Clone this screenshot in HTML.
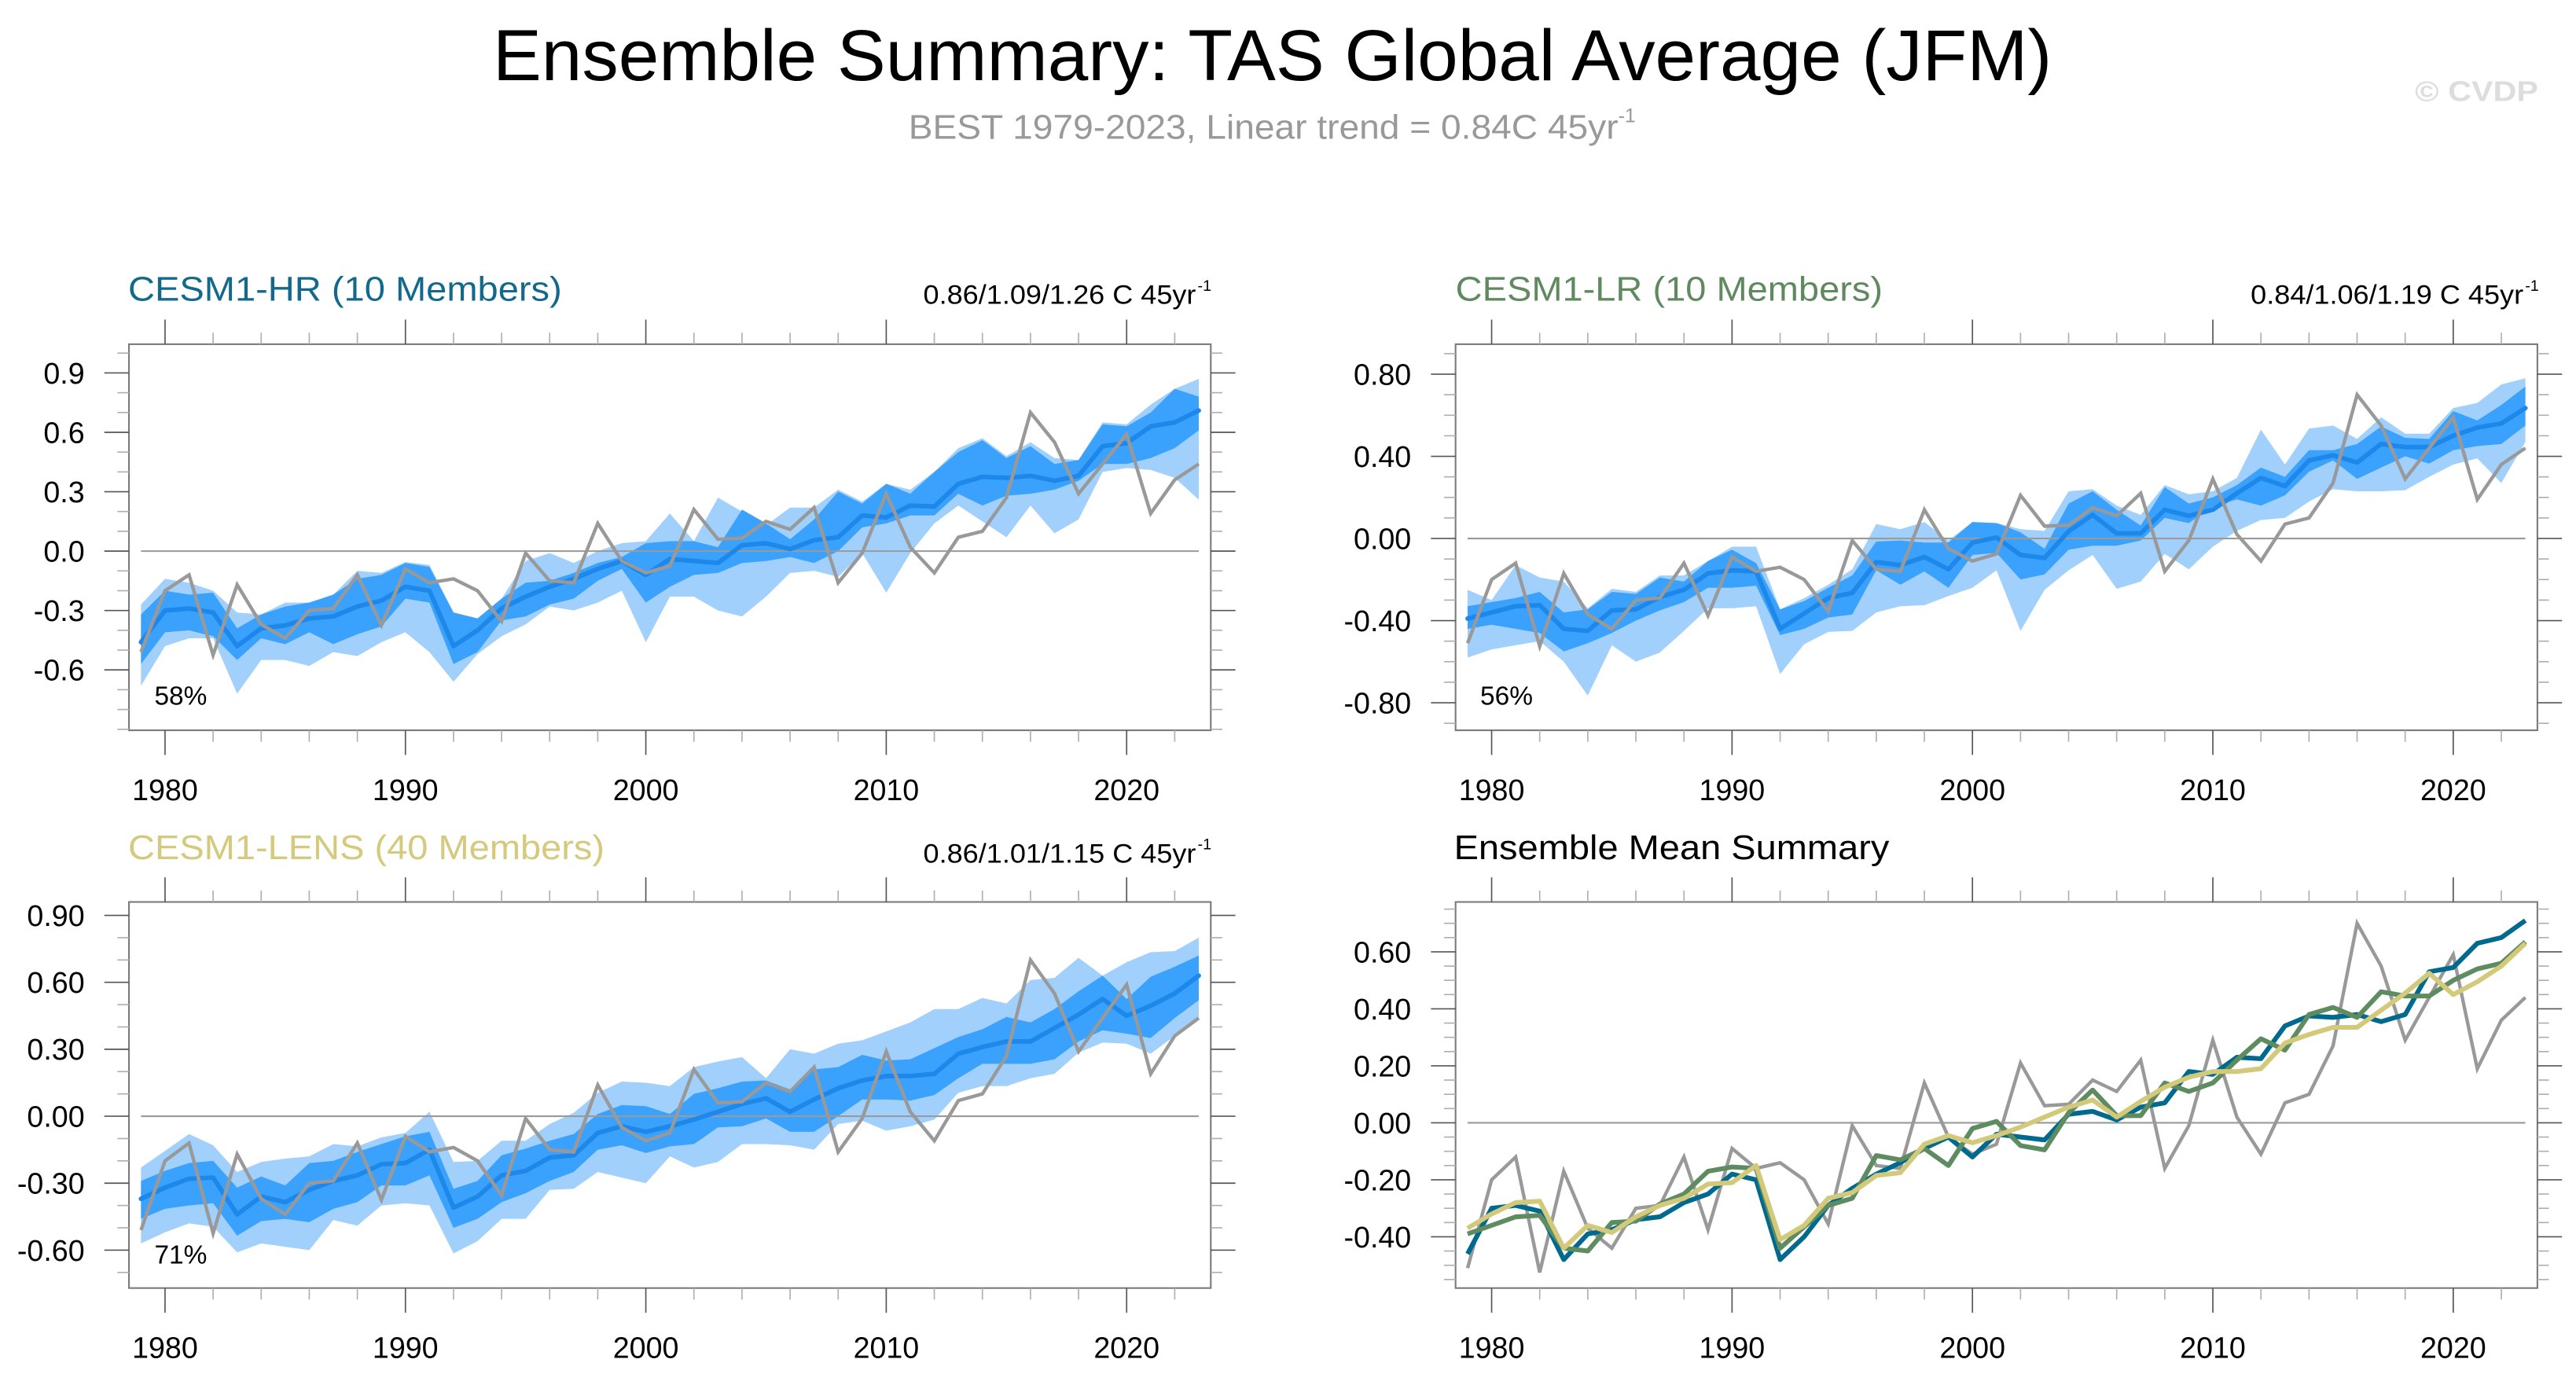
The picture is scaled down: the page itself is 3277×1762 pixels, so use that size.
<!DOCTYPE html>
<html><head><meta charset="utf-8"><title>Ensemble Summary: TAS Global Average (JFM)</title>
<style>
html,body{margin:0;padding:0;background:#fff;}
svg{display:block;font-family:"Liberation Sans",Arial,sans-serif;}
</style></head>
<body>
<svg id="chart" xmlns="http://www.w3.org/2000/svg" width="3277" height="1762" viewBox="0 0 1568 843" preserveAspectRatio="none">
<rect x="0" y="0" width="1568" height="843" fill="#fff"/>
<text x="300" y="48.7" font-size="44" textLength="949" lengthAdjust="spacingAndGlyphs" fill="#000">Ensemble Summary: TAS Global Average (JFM)</text>
<text x="553" y="84.5" font-size="21" fill="#999"><tspan textLength="432" lengthAdjust="spacingAndGlyphs">BEST 1979-2023, Linear trend = 0.84C 45yr</tspan><tspan font-size="12" dy="-10">-1</tspan></text>
<text x="1470" y="61.4" font-size="17.5" font-weight="bold" fill="#ddd" textLength="75" lengthAdjust="spacingAndGlyphs">© CVDP</text>

<text x="78" y="183" font-size="21" fill="#12698c" textLength="264" lengthAdjust="spacingAndGlyphs">CESM1-HR (10 Members)</text>
<text x="886" y="183" font-size="21" fill="#5f8a60" textLength="260" lengthAdjust="spacingAndGlyphs">CESM1-LR (10 Members)</text>
<text x="78" y="523" font-size="21" fill="#d4c97c" textLength="290" lengthAdjust="spacingAndGlyphs">CESM1-LENS (40 Members)</text>
<text x="885" y="523" font-size="21" fill="#000" textLength="265" lengthAdjust="spacingAndGlyphs">Ensemble Mean Summary</text>

<text x="562" y="185" font-size="16.5" textLength="166" lengthAdjust="spacingAndGlyphs" fill="#000">0.86/1.09/1.26 C 45yr</text>
<text x="729" y="177" font-size="9.5" fill="#000">-1</text>
<text x="1370" y="185" font-size="16.5" textLength="166" lengthAdjust="spacingAndGlyphs" fill="#000">0.84/1.06/1.19 C 45yr</text>
<text x="1537" y="177" font-size="9.5" fill="#000">-1</text>
<text x="562" y="525" font-size="16.5" textLength="166" lengthAdjust="spacingAndGlyphs" fill="#000">0.86/1.01/1.15 C 45yr</text>
<text x="729" y="517" font-size="9.5" fill="#000">-1</text>

<text x="94" y="429" font-size="16" fill="#000">58%</text>
<text x="901" y="429" font-size="16" fill="#000">56%</text>
<text x="94" y="769" font-size="16" fill="#000">71%</text>
<g id="plots"></g>
</svg>
<script>
const years = [1979,1980,1981,1982,1983,1984,1985,1986,1987,1988,1989,1990,1991,1992,1993,1994,1995,1996,1997,1998,1999,2000,2001,2002,2003,2004,2005,2006,2007,2008,2009,2010,2011,2012,2013,2014,2015,2016,2017,2018,2019,2020,2021,2022,2023];
const obs = [-0.51,-0.20,-0.12,-0.525,-0.17,-0.37,-0.44,-0.30,-0.29,-0.12,-0.375,-0.09,-0.16,-0.14,-0.20,-0.355,-0.01,-0.15,-0.16,0.14,-0.05,-0.11,-0.075,0.21,0.06,0.065,0.15,0.11,0.22,-0.16,-0.01,0.29,0.02,-0.11,0.07,0.10,0.27,0.70,0.55,0.29,0.44,0.59,0.19,0.36,0.44];

const hrMean = [-0.46,-0.30,-0.29,-0.31,-0.48,-0.39,-0.375,-0.34,-0.33,-0.28,-0.25,-0.18,-0.20,-0.48,-0.40,-0.29,-0.23,-0.18,-0.14,-0.09,-0.05,-0.12,-0.04,-0.05,-0.06,0.03,0.04,0.01,0.055,0.07,0.18,0.17,0.23,0.225,0.34,0.375,0.37,0.38,0.355,0.38,0.53,0.545,0.63,0.65,0.71];
const hrDarkHi = [-0.32,-0.20,-0.22,-0.21,-0.39,-0.32,-0.28,-0.26,-0.22,-0.14,-0.12,-0.06,-0.08,-0.31,-0.34,-0.24,-0.16,-0.15,-0.11,-0.06,-0.03,0.04,0.05,0.05,0.02,0.21,0.14,0.06,0.16,0.30,0.24,0.34,0.29,0.40,0.50,0.56,0.47,0.53,0.44,0.46,0.64,0.63,0.70,0.82,0.78];
const hrDarkLo = [-0.57,-0.41,-0.40,-0.43,-0.55,-0.44,-0.47,-0.41,-0.47,-0.42,-0.38,-0.24,-0.26,-0.57,-0.51,-0.35,-0.33,-0.27,-0.24,-0.15,-0.09,-0.26,-0.18,-0.12,-0.11,-0.06,-0.05,-0.03,-0.06,0.00,0.12,0.14,0.18,0.18,0.29,0.23,0.28,0.29,0.31,0.355,0.44,0.44,0.47,0.52,0.61];
const hrLightHi = [-0.27,-0.14,-0.16,-0.20,-0.31,-0.32,-0.26,-0.26,-0.22,-0.10,-0.11,-0.055,-0.07,-0.31,-0.34,-0.24,-0.05,-0.01,-0.06,0.00,0.04,0.05,0.19,0.05,0.27,0.20,0.13,0.22,0.22,0.31,0.25,0.34,0.31,0.40,0.52,0.57,0.48,0.55,0.47,0.46,0.65,0.64,0.74,0.82,0.87];
const hrLightLo = [-0.68,-0.48,-0.44,-0.44,-0.72,-0.55,-0.55,-0.58,-0.51,-0.53,-0.46,-0.41,-0.51,-0.66,-0.52,-0.43,-0.37,-0.28,-0.30,-0.26,-0.20,-0.46,-0.23,-0.23,-0.30,-0.33,-0.23,-0.11,-0.10,-0.13,-0.01,-0.21,-0.01,0.14,0.23,0.15,0.07,0.23,0.09,0.16,0.40,0.42,0.41,0.37,0.26];

const lrMean = [-0.39,-0.36,-0.33,-0.325,-0.44,-0.45,-0.35,-0.345,-0.285,-0.25,-0.17,-0.155,-0.16,-0.44,-0.365,-0.29,-0.265,-0.115,-0.13,-0.09,-0.15,-0.02,0.005,-0.08,-0.095,0.035,0.115,0.025,0.025,0.14,0.11,0.14,0.22,0.295,0.255,0.38,0.405,0.37,0.46,0.445,0.445,0.50,0.54,0.56,0.635];
const lrDarkHi = [-0.33,-0.31,-0.29,-0.26,-0.36,-0.345,-0.26,-0.27,-0.19,-0.21,-0.11,-0.055,-0.12,-0.345,-0.305,-0.24,-0.18,-0.015,-0.01,-0.02,-0.02,0.08,0.075,0.03,-0.05,0.17,0.23,0.14,0.063,0.25,0.17,0.20,0.26,0.345,0.30,0.43,0.43,0.46,0.545,0.49,0.485,0.62,0.575,0.65,0.74];
const lrDarkLo = [-0.44,-0.42,-0.44,-0.46,-0.55,-0.51,-0.46,-0.40,-0.35,-0.31,-0.24,-0.24,-0.23,-0.47,-0.44,-0.385,-0.37,-0.155,-0.225,-0.16,-0.24,-0.08,-0.07,-0.20,-0.175,-0.055,-0.035,-0.035,-0.01,0.10,0.075,0.155,0.19,0.16,0.21,0.325,0.38,0.29,0.345,0.40,0.365,0.43,0.45,0.46,0.55];
const lrLightHi = [-0.25,-0.30,-0.13,-0.19,-0.21,-0.34,-0.245,-0.26,-0.18,-0.18,-0.11,-0.04,-0.04,-0.345,-0.29,-0.225,-0.15,0.07,0.045,0.08,-0.01,0.08,0.075,0.045,0.037,0.23,0.24,0.16,0.115,0.26,0.215,0.23,0.295,0.53,0.36,0.535,0.55,0.485,0.59,0.51,0.51,0.635,0.66,0.75,0.78];
const lrLightLo = [-0.58,-0.54,-0.52,-0.50,-0.60,-0.765,-0.52,-0.60,-0.555,-0.45,-0.34,-0.34,-0.33,-0.66,-0.515,-0.455,-0.45,-0.36,-0.33,-0.325,-0.28,-0.24,-0.155,-0.45,-0.25,-0.155,-0.08,-0.245,-0.21,-0.075,-0.15,-0.04,0.037,0.09,0.10,0.18,0.24,0.23,0.23,0.235,0.30,0.36,0.39,0.27,0.47];

const leMean = [-0.37,-0.32,-0.28,-0.275,-0.44,-0.36,-0.385,-0.33,-0.29,-0.265,-0.215,-0.21,-0.15,-0.41,-0.36,-0.265,-0.245,-0.185,-0.175,-0.075,-0.045,-0.07,-0.045,-0.015,0.02,0.055,0.08,0.02,0.075,0.125,0.16,0.18,0.18,0.19,0.28,0.31,0.335,0.335,0.395,0.455,0.525,0.45,0.495,0.55,0.63];
const leDarkHi = [-0.29,-0.245,-0.21,-0.20,-0.32,-0.27,-0.31,-0.21,-0.20,-0.16,-0.125,-0.09,-0.07,-0.325,-0.29,-0.175,-0.145,-0.11,-0.08,0.01,0.05,0.045,0.01,0.10,0.125,0.155,0.16,0.12,0.21,0.22,0.275,0.25,0.255,0.305,0.355,0.39,0.445,0.42,0.48,0.56,0.63,0.525,0.625,0.67,0.72];
const leDarkLo = [-0.46,-0.415,-0.40,-0.39,-0.535,-0.47,-0.46,-0.475,-0.415,-0.385,-0.31,-0.31,-0.265,-0.50,-0.46,-0.385,-0.345,-0.29,-0.25,-0.15,-0.13,-0.165,-0.135,-0.125,-0.05,-0.045,-0.01,-0.07,-0.07,0.00,0.075,0.075,0.07,0.095,0.17,0.235,0.235,0.235,0.255,0.335,0.385,0.37,0.35,0.44,0.52];
const leLightHi = [-0.23,-0.155,-0.08,-0.13,-0.25,-0.205,-0.19,-0.18,-0.125,-0.135,-0.095,-0.075,0.02,-0.205,-0.20,-0.11,-0.11,-0.035,0.015,0.105,0.155,0.15,0.135,0.22,0.245,0.265,0.17,0.30,0.28,0.325,0.34,0.38,0.42,0.48,0.48,0.53,0.505,0.61,0.62,0.71,0.63,0.69,0.735,0.74,0.80];
const leLightLo = [-0.57,-0.52,-0.48,-0.495,-0.61,-0.57,-0.585,-0.60,-0.465,-0.49,-0.40,-0.39,-0.40,-0.615,-0.56,-0.46,-0.46,-0.33,-0.325,-0.25,-0.275,-0.30,-0.18,-0.23,-0.205,-0.125,-0.125,-0.13,-0.15,-0.035,-0.02,-0.065,-0.045,-0.015,0.105,0.135,0.135,0.17,0.19,0.285,0.33,0.325,0.28,0.36,0.445];

const xTickLabels = ["1980","1990","2000","2010","2020"];
const xMajorYears = [1980,1990,2000,2010,2020];
const hrYTicks = [0.9,0.6,0.3,0.0,-0.3,-0.6];
const hrYLabels = ["0.9","0.6","0.3","0.0","-0.3","-0.6"];
const lrYTicks = [0.8,0.4,0.0,-0.4,-0.8];
const lrYLabels = ["0.80","0.40","0.00","-0.40","-0.80"];
const leYTicks = [0.9,0.6,0.3,0.0,-0.3,-0.6];
const leYLabels = ["0.90","0.60","0.30","0.00","-0.30","-0.60"];
const smYTicks = [0.6,0.4,0.2,0.0,-0.2,-0.4];
const smYLabels = ["0.60","0.40","0.20","0.00","-0.20","-0.40"];

const NS = "http://www.w3.org/2000/svg";
const root = document.getElementById('plots');
function mk(tag, attrs, parent){
  const el = document.createElementNS(NS, tag);
  for (const k in attrs) el.setAttribute(k, attrs[k]);
  (parent||root).appendChild(el);
  return el;
}
const XMIN = 1978.5, XMAX = 2023.5;
function sx(p, yr){ return p.x0 + (yr - XMIN) / (XMAX - XMIN) * (p.x1 - p.x0); }
function sy(p, v){ return p.y0 + (p.ymax - v) / (p.ymax - p.ymin) * (p.y1 - p.y0); }

function linePts(p, vals){ return vals.map((v,i)=> sx(p,years[i]).toFixed(2)+','+sy(p,v).toFixed(2)).join(' '); }
function bandPts(p, hi, lo){
  const a = hi.map((v,i)=> sx(p,years[i]).toFixed(2)+','+sy(p,v).toFixed(2));
  const b = lo.map((v,i)=> sx(p,years[i]).toFixed(2)+','+sy(p,v).toFixed(2)).reverse();
  return a.concat(b).join(' ');
}

function drawAxes(p, g, name){
  const z = mk('line', {x1:sx(p,1979), x2:sx(p,2023), y1:sy(p,0), y2:sy(p,0), stroke:'#9a9a9a', 'stroke-width':1}, g);
  
  
}

function drawFrame(p, g, name, yTicks, yLabels, minorStep){
  const fr = mk('rect', {x:p.x0, y:p.y0, width:p.x1-p.x0, height:p.y1-p.y0, fill:'none', stroke:'#7a7a7a', 'stroke-width':1}, g);
  
  
  for (let yr = 1980; yr <= 2022; yr += 2){
    const major = xMajorYears.indexOf(yr) >= 0;
    const x = sx(p, yr);
    const len = major ? 15 : 7;
    const col = major ? '#555' : '#b0b0b0';
    const t1 = mk('line', {x1:x, x2:x, y1:p.y1, y2:p.y1+len, stroke:col, 'stroke-width':0.8}, g);
    
    
    const t2 = mk('line', {x1:x, x2:x, y1:p.y0, y2:p.y0-len, stroke:col, 'stroke-width':0.8}, g);
    
    
  }
  xMajorYears.forEach((yr, i)=>{
    const t = mk('text', {x:sx(p,yr), y:p.y1+42.5, 'font-size':18, 'text-anchor':'middle', fill:'#000'}, g);
    
    
    t.textContent = xTickLabels[i];
  });
  const start = Math.ceil((p.ymin + 0.001) / minorStep), end = Math.floor((p.ymax - 0.001) / minorStep);
  for (let k = start; k <= end; k++){
    const v = k * minorStep;
    const isMajor = yTicks.some(t => Math.abs(t - v) < 1e-6);
    if (isMajor) continue;
    const y = sy(p, v);
    const a = mk('line', {x1:p.x0, x2:p.x0-7, y1:y, y2:y, stroke:'#b0b0b0', 'stroke-width':0.8}, g);
    
    
    const b = mk('line', {x1:p.x1, x2:p.x1+7, y1:y, y2:y, stroke:'#b0b0b0', 'stroke-width':0.8}, g);
    
    
  }
  yTicks.forEach((v, i)=>{
    const y = sy(p, v);
    const a = mk('line', {x1:p.x0, x2:p.x0-15, y1:y, y2:y, stroke:'#555', 'stroke-width':0.8}, g);
    
    
    const b = mk('line', {x1:p.x1, x2:p.x1+15, y1:y, y2:y, stroke:'#555', 'stroke-width':0.8}, g);
    
    
    const t = mk('text', {x:p.x0-27, y:y+6.4, 'font-size':18, 'text-anchor':'end', fill:'#000'}, g);
    
    
    t.textContent = yLabels[i];
  });
}

function drawEnsemblePanel(p, name, mean, dHi, dLo, lHi, lLo, yTicks, yLabels){
  const g = mk('g', {});
  
  
  const lb = mk('polygon', {points:bandPts(p, lHi, lLo), fill:'#a0d0fb', stroke:'none'}, g);
  
  
  const db = mk('polygon', {points:bandPts(p, dHi, dLo), fill:'#3aa1fd', stroke:'none'}, g);
  
  
  drawAxes(p, g, name);
  const ml = mk('polyline', {points:linePts(p, mean), fill:'none', stroke:'#1e88ea', 'stroke-width':2.8, 'stroke-linejoin':'round', 'stroke-linecap':'round'}, g);
  
  
  const ol = mk('polyline', {points:linePts(p, obs), fill:'none', stroke:'#999', 'stroke-width':2.1, 'stroke-linejoin':'miter'}, g);
  
  
  drawFrame(p, g, name, yTicks, yLabels, 0.1);
}

const pHR = {x0:78.5, x1:737, y0:209.5, y1:444.5, ymin:-0.905, ymax:1.045};
const pLR = {x0:886, x1:1544.5, y0:209.5, y1:444.5, ymin:-0.934, ymax:0.946};
const pLE = {x0:78.5, x1:737, y0:549, y1:784, ymin:-0.77, ymax:0.96};
const pSM = {x0:886, x1:1544.5, y0:549, y1:784, ymin:-0.58, ymax:0.775};

drawEnsemblePanel(pHR, 'hr', hrMean, hrDarkHi, hrDarkLo, hrLightHi, hrLightLo, hrYTicks, hrYLabels);
drawEnsemblePanel(pLR, 'lr', lrMean, lrDarkHi, lrDarkLo, lrLightHi, lrLightLo, lrYTicks, lrYLabels);
drawEnsemblePanel(pLE, 'lens', leMean, leDarkHi, leDarkLo, leLightHi, leLightLo, leYTicks, leYLabels);

(function(){
  const p = pSM;
  const g = mk('g', {});
  
  
  drawAxes(p, g, 'summary');
  const o = mk('polyline', {points:linePts(p, obs), fill:'none', stroke:'#999', 'stroke-width':2.1}, g);
  
  
  const a = mk('polyline', {points:linePts(p, hrMean), fill:'none', stroke:'#006a8e', 'stroke-width':2.9, 'stroke-linejoin':'round'}, g);
  
  
  const b = mk('polyline', {points:linePts(p, lrMean), fill:'none', stroke:'#5f8b60', 'stroke-width':2.9, 'stroke-linejoin':'round'}, g);
  
  
  const c = mk('polyline', {points:linePts(p, leMean), fill:'none', stroke:'#d3c97a', 'stroke-width':2.9, 'stroke-linejoin':'round'}, g);
  
  
  drawFrame(p, g, 'summary', smYTicks, smYLabels, 0.05);
})();
</script>
</body></html>
